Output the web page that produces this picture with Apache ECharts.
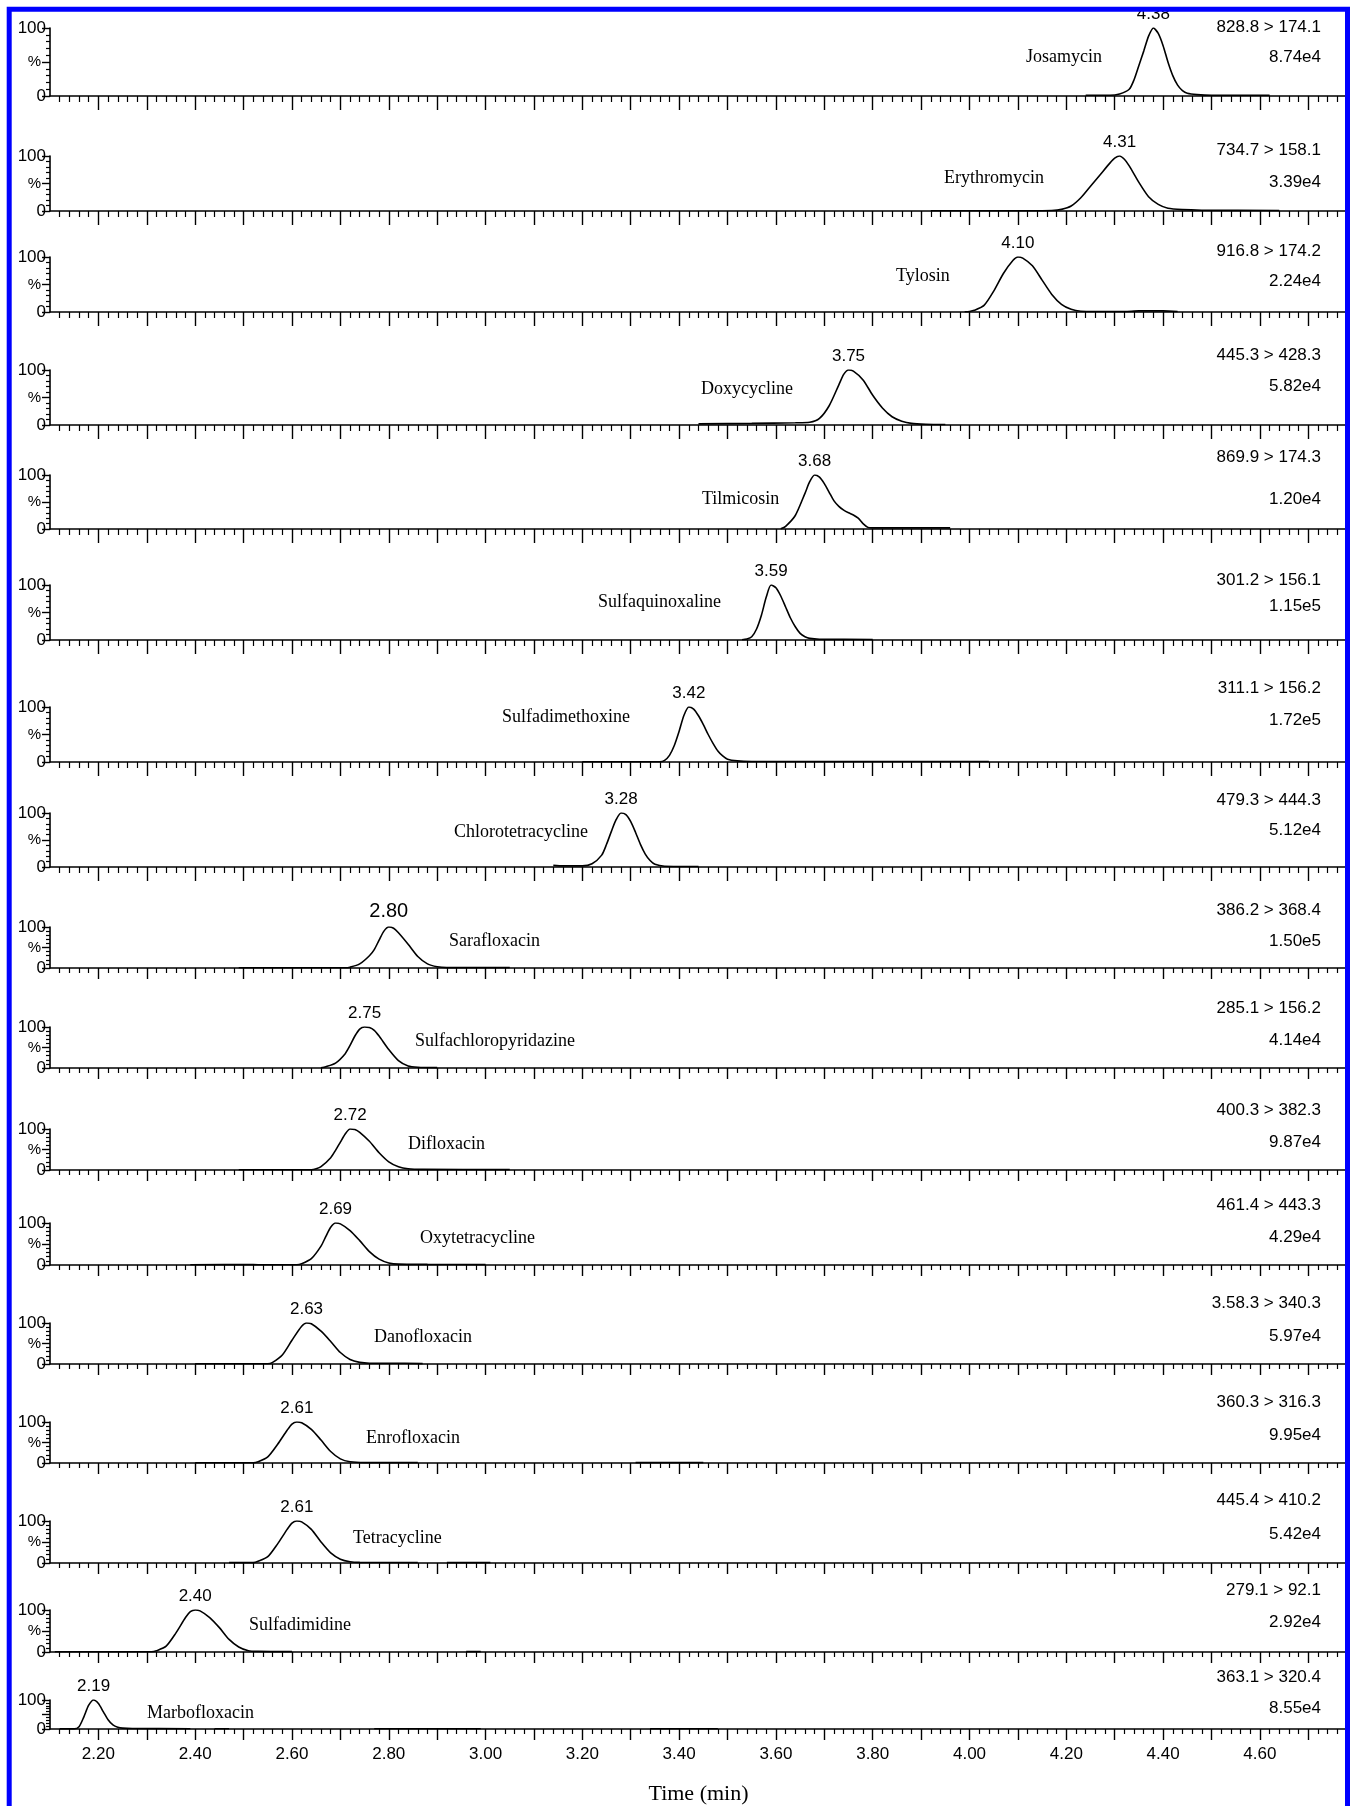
<!DOCTYPE html>
<html>
<head>
<meta charset="utf-8">
<script src="https://cdn.jsdelivr.net/npm/echarts@6/dist/echarts.min.js"></script>
<style>
  html, body { margin: 0; padding: 0; background: #ffffff; }
  #chart { width: 1355px; height: 1806px; }
</style>
</head>
<body>
<div id="chart"></div>
<script>
// ---- MRM chromatograms of 17 veterinary drugs (relative intensity % vs time, min) ----

const compounds = [
  'Josamycin', 'Erythromycin', 'Tylosin', 'Doxycycline', 'Tilmicosin',
  'Sulfaquinoxaline', 'Sulfadimethoxine', 'Chlorotetracycline', 'Sarafloxacin',
  'Sulfachloropyridazine', 'Difloxacin', 'Oxytetracycline', 'Danofloxacin',
  'Enrofloxacin', 'Tetracycline', 'Sulfadimidine', 'Marbofloxacin'
];

const transitions = [
  '828.8 > 174.1', '734.7 > 158.1', '916.8 > 174.2', '445.3 > 428.3', '869.9 > 174.3',
  '301.2 > 156.1', '311.1 > 156.2', '479.3 > 444.3', '386.2 > 368.4', '285.1 > 156.2',
  '400.3 > 382.3', '461.4 > 443.3', '3.58.3 > 340.3', '360.3 > 316.3', '445.4 > 410.2',
  '279.1 > 92.1', '363.1 > 320.4'
];

const intensities = [
  '8.74e4', '3.39e4', '2.24e4', '5.82e4', '1.20e4', '1.15e5', '1.72e5', '5.12e4',
  '1.50e5', '4.14e4', '9.87e4', '4.29e4', '5.97e4', '9.95e4', '5.42e4', '2.92e4', '8.55e4'
];

const xTickLabels = ['2.20', '2.40', '2.60', '2.80', '3.00', '3.20', '3.40',
                     '3.60', '3.80', '4.00', '4.20', '4.40', '4.60'];

// [time (min), relative intensity (%)]; '-' breaks the trace
const josamycin = [[4.24,1],[4.29,1],[4.31,3],[4.33,10],[4.34,24],[4.35,45],[4.36,66],[4.37,88],
  [4.38,100],[4.39,92],[4.40,74],[4.41,50],[4.42,30],[4.43,16],[4.44,8],[4.45,4],[4.47,2],[4.50,1],[4.62,1]];
const erythromycin = [[3.92,0.5],[4.12,0.5],[4.17,1],[4.19,3],[4.21,9],[4.23,24],[4.25,45],[4.27,66],
  [4.29,87],[4.30,96],[4.31,100],[4.32,94],[4.33,82],[4.35,52],[4.37,26],[4.39,12],[4.41,5],[4.44,2.5],[4.48,1.5],[4.64,1]];
const tylosin = [[3.99,0.5],[4.00,1],[4.01,3],[4.03,12],[4.05,38],[4.07,70],[4.09,94],[4.10,100],
  [4.11,98],[4.13,84],[4.15,58],[4.17,32],[4.19,14],[4.21,5],[4.23,1.5],[4.26,1],[4.32,1],[4.35,2],[4.40,2],[4.43,1]];
const doxycycline = [[3.44,2],[3.55,3],[3.64,4],[3.67,5],[3.69,12],[3.71,35],[3.73,73],[3.74,92],
  [3.75,100],[3.76,98],[3.78,82],[3.80,54],[3.82,31],[3.84,15],[3.86,7],[3.88,3],[3.91,1.5],[3.95,1]];
const tilmicosin = [[3.61,0.5],[3.62,5],[3.64,25],[3.66,66],[3.67,88],[3.68,100],[3.69,96],[3.70,84],
  [3.71,68],[3.72,52],[3.73,42],[3.74,35],[3.75,30],[3.76,26],[3.77,20],[3.78,10],[3.79,3],[3.80,2],[3.96,2]];
const sulfaquinoxaline = [[3.53,0.5],[3.54,2],[3.55,6],[3.56,20],[3.57,45],[3.58,78],[3.59,100],[3.60,95],
  [3.61,80],[3.62,60],[3.63,40],[3.64,24],[3.65,12],[3.66,6],[3.67,3],[3.69,1.5],[3.80,1]];
const sulfadimethoxine = [[3.20,0.5],[3.36,0.5],[3.37,3],[3.38,12],[3.39,30],[3.40,56],[3.41,85],[3.42,100],
  [3.43,96],[3.44,84],[3.45,68],[3.46,50],[3.47,34],[3.48,20],[3.49,11],[3.50,5],[3.52,2],[3.55,1],[4.04,1]];
const chlorotetracycline = [[3.14,3],[3.16,2],[3.20,2],[3.22,6],[3.24,22],[3.25,42],[3.26,66],[3.27,88],
  [3.28,100],[3.29,97],[3.30,84],[3.31,64],[3.32,42],[3.33,24],[3.34,12],[3.35,5],[3.37,1.5],[3.44,1]];
const sarafloxacin = [[2.49,0.5],[2.71,0.5],[2.72,2],[2.74,10],[2.76,30],[2.77,45],[2.78,68],[2.79,90],
  [2.80,100],[2.81,97],[2.82,86],[2.84,58],[2.86,28],[2.88,10],[2.90,3],[2.92,1],[3.05,1]];
const sulfachloropyridazine = [[2.66,0.5],[2.67,3],[2.69,12],[2.71,35],[2.72,55],[2.73,78],[2.74,95],
  [2.75,100],[2.76,99],[2.77,92],[2.78,78],[2.80,45],[2.82,18],[2.84,5],[2.86,2],[2.90,1]];
const difloxacin = [[2.49,0.5],[2.64,0.5],[2.65,3],[2.66,8],[2.68,30],[2.69,48],[2.70,68],[2.71,88],
  [2.72,100],[2.73,99],[2.74,92],[2.76,70],[2.78,42],[2.80,20],[2.82,8],[2.84,3],[2.87,1.5],[3.05,1]];
const oxytetracycline = [[2.39,0.5],[2.52,1],[2.54,0.5],[2.61,0.5],[2.62,3],[2.64,15],[2.66,45],[2.67,68],
  [2.68,90],[2.69,100],[2.70,98],[2.72,82],[2.74,58],[2.76,32],[2.78,14],[2.80,5],[2.82,2],[2.88,1.5],[3.00,1]];
const danofloxacin = [[2.40,0.5],[2.55,0.5],[2.56,4],[2.58,22],[2.60,58],[2.62,92],[2.63,100],[2.64,98],
  [2.66,80],[2.68,55],[2.70,28],[2.72,11],[2.74,4],[2.76,2],[2.80,2],[2.87,1]];
const enrofloxacin = [[2.40,0.5],[2.52,0.5],[2.53,3],[2.55,15],[2.57,45],[2.59,80],[2.60,95],[2.61,100],
  [2.62,98],[2.64,82],[2.66,56],[2.68,28],[2.70,10],[2.72,3],[2.75,1],[2.86,1],[2.87,'-'],[3.31,1],[3.45,1]];
const tetracycline = [[2.47,1],[2.52,1],[2.53,4],[2.55,15],[2.57,45],[2.59,80],[2.60,95],[2.61,100],
  [2.62,98],[2.64,80],[2.66,50],[2.68,24],[2.70,9],[2.72,3],[2.74,1.5],[2.86,1],[2.88,'-'],[2.92,1],[3.01,1]];
const sulfadimidine = [[2.11,0.5],[2.31,0.5],[2.32,3],[2.34,14],[2.36,45],[2.38,82],[2.39,96],[2.40,100],
  [2.41,98],[2.43,82],[2.45,58],[2.47,30],[2.49,12],[2.51,3],[2.53,1.5],[2.60,1],[2.61,'-'],[2.96,1],[2.99,1]];
const marbofloxacin = [[2.12,0.5],[2.15,0.5],[2.16,8],[2.17,42],[2.18,82],[2.19,100],[2.20,88],[2.21,60],
  [2.22,32],[2.23,14],[2.24,6],[2.25,3],[2.27,1.5],[2.39,1],[2.40,'-'],[2.44,1],[2.47,1],[2.48,'-'],
  [2.77,1],[2.99,1],[3.00,'-'],[3.34,1],[3.48,1]];

const traces = [josamycin, erythromycin, tylosin, doxycycline, tilmicosin, sulfaquinoxaline,
  sulfadimethoxine, chlorotetracycline, sarafloxacin, sulfachloropyridazine, difloxacin,
  oxytetracycline, danofloxacin, enrofloxacin, tetracycline, sulfadimidine, marbofloxacin];

// ---- layout (pixels) ----
const baseY   = [96, 211, 312, 425, 529, 640, 762, 867, 968, 1068, 1170, 1265, 1364, 1463, 1563, 1652, 1738];
const panelH  = [68, 55, 55, 55, 54, 55, 55, 54, 41, 41, 41, 42, 41, 41, 42, 42, 38];
const nameX   = [1026, 944, 896, 701, 702, 598, 502, 454, 449, 415, 408, 420, 374, 366, 353, 249, 147];
const nameY   = [57, 178, 276, 389, 499, 602, 717, 832, 941, 1041, 1144, 1238, 1337, 1438, 1538, 1625, 1713];
const line1Y  = [27, 150, 251, 355, 457, 580, 688, 800, 910, 1008, 1110, 1205, 1303, 1402, 1500, 1590, 1677];
const line2Y  = [57, 182, 281, 386, 499, 606, 720, 830, 941, 1040, 1142, 1237, 1336, 1435, 1534, 1622, 1708];
const rtFont  = [17, 17, 17, 17, 17, 17, 17, 17, 20, 17, 17, 17, 17, 17, 17, 17, 17];

const X_MIN = 2.10, X_MAX = 4.78;
const GRID_LEFT = 50, GRID_RIGHT = 8;
const SANS = '"Liberation Sans", Arimo, Arial, sans-serif';
const SERIF = '"Liberation Serif", Tinos, "Times New Roman", serif';

// tick positions: long ticks every 0.1 min, short ticks every 0.02 min
const majorTicks = [], minorTicks = [];
for (let k = 212; k <= 478; k += 2) {
  (k % 10 === 0 ? majorTicks : minorTicks).push(k / 100);
}

const grids = [], xAxes = [], yAxes = [], series = [], graphics = [];
const last = traces.length - 1;

traces.forEach((trace, i) => {
  const upper = i < 8;
  grids.push({ left: GRID_LEFT, right: GRID_RIGHT, top: baseY[i] - panelH[i], height: panelH[i] });

  // main time axis (long ticks, labels on the bottom panel)
  xAxes.push({
    type: 'value', gridIndex: i, position: 'bottom', min: X_MIN, max: X_MAX,
    axisLine: { show: true, lineStyle: { color: '#000', width: 1.6 } },
    axisTick: { show: true, customValues: majorTicks, length: upper ? 14 : 11,
                lineStyle: { color: '#000', width: 1.4 } },
    axisLabel: i === last ? {
      show: true, customValues: xTickLabels.map(Number), margin: 17,
      showMinLabel: true, showMaxLabel: true, hideOverlap: false,
      formatter: v => Number(v).toFixed(2), color: '#000', fontSize: 17, fontFamily: SANS
    } : { show: false },
    splitLine: { show: false },
    name: i === last ? 'Time (min)' : '',
    nameLocation: 'middle', nameGap: 54,
    nameTextStyle: { color: '#000', fontSize: 22, fontFamily: SERIF }
  });
  // companion axis carrying the short ticks
  xAxes.push({
    type: 'value', gridIndex: i, position: 'bottom', min: X_MIN, max: X_MAX,
    axisLine: { show: false },
    axisTick: { show: true, customValues: minorTicks, length: upper ? 6 : 5,
                lineStyle: { color: '#000', width: 1.2 } },
    axisLabel: { show: false }, splitLine: { show: false }
  });

  yAxes.push({
    type: 'value', gridIndex: i, min: 0, max: 100, interval: 50,
    axisLine: { show: true, lineStyle: { color: '#000', width: 1.6 } },
    axisTick: { show: true, length: 8, lineStyle: { color: '#000', width: 1.4 } },
    minorTick: { show: true, splitNumber: 5, length: 4, lineStyle: { color: '#000', width: 1.2 } },
    axisLabel: {
      color: '#000', fontSize: 17, fontFamily: SANS, margin: 4,
      showMinLabel: true, showMaxLabel: true, hideOverlap: false,
      formatter: v => (v === 50 ? '{p|%}' : String(v)),
      rich: { p: { fontSize: 15, fontFamily: SANS, color: '#000', padding: [0, 5, 0, 0] } }
    },
    splitLine: { show: false }
  });

  // apex of the trace carries the retention-time label
  let apex = null;
  trace.forEach(p => { if (p[1] !== '-' && (!apex || p[1] > apex[1])) apex = p; });

  series.push({
    type: 'line', xAxisIndex: 2 * i, yAxisIndex: i, data: trace,
    showSymbol: false, smooth: 0.25, connectNulls: false, silent: true,
    lineStyle: { color: '#000', width: 1.6 },
    markPoint: {
      symbol: 'circle', symbolSize: 1, itemStyle: { color: 'rgba(0,0,0,0)' }, silent: true,
      label: { show: true, position: 'top', distance: 5, color: '#000',
               fontSize: rtFont[i], fontFamily: SANS,
               formatter: p => Number(p.value).toFixed(2) },
      data: [{ coord: [apex[0], apex[1]], value: apex[0] }]
    }
  });

  graphics.push({
    type: 'text', x: nameX[i], y: nameY[i], silent: true,
    style: { text: compounds[i], fill: '#000', fontSize: 18, fontFamily: SERIF,
             align: 'left', verticalAlign: 'middle' }
  });
  graphics.push({
    type: 'text', x: 1321, y: line1Y[i], silent: true,
    style: { text: transitions[i], fill: '#000', fontSize: 17, fontFamily: SANS,
             align: 'right', verticalAlign: 'middle' }
  });
  graphics.push({
    type: 'text', x: 1321, y: line2Y[i], silent: true,
    style: { text: intensities[i], fill: '#000', fontSize: 17, fontFamily: SANS,
             align: 'right', verticalAlign: 'middle' }
  });
});

// blue frame around the figure
graphics.push({
  type: 'rect', z: 100, silent: true,
  shape: { x: 9.2, y: 9.2, width: 1338.3, height: 1860 },
  style: { fill: 'none', stroke: '#0000ff', lineWidth: 5 }
});

const chart = echarts.init(document.getElementById('chart'), null, { renderer: 'canvas' });
chart.setOption({
  backgroundColor: '#ffffff',
  animation: false,
  grid: grids,
  xAxis: xAxes,
  yAxis: yAxes,
  series: series,
  graphic: { elements: graphics }
});
</script>
</body>
</html>
